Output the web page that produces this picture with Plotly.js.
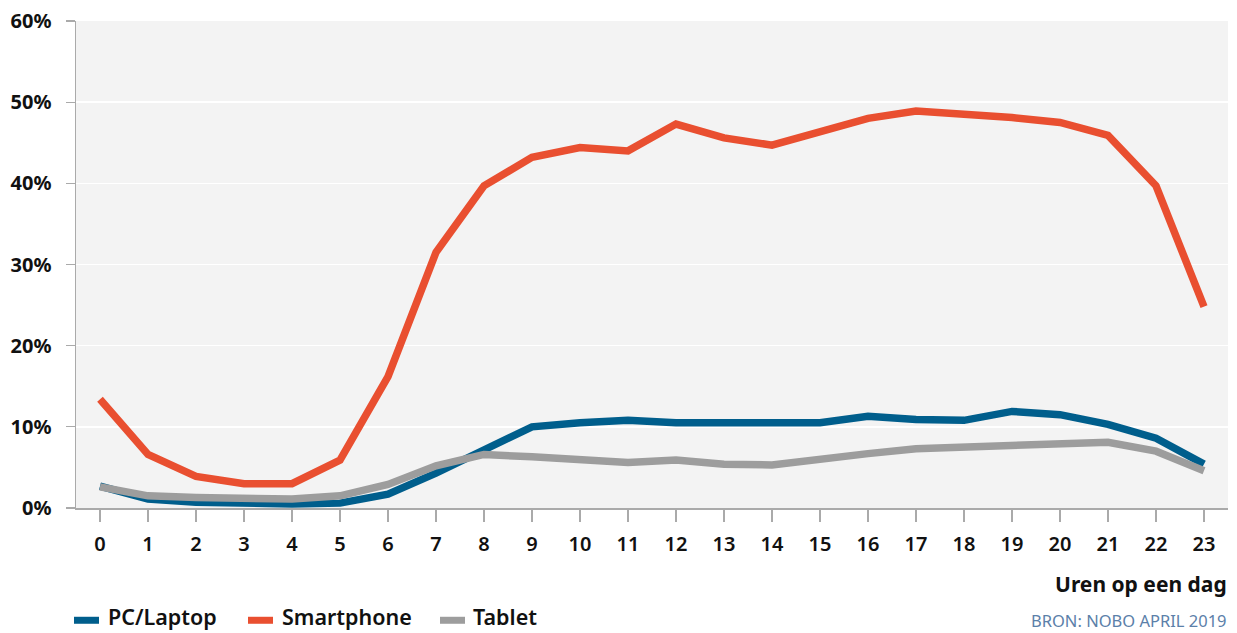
<!DOCTYPE html>
<html>
<head>
<meta charset="utf-8">
<script src="https://cdn.plot.ly/plotly-3.0.1.min.js"></script>
<style>
  html, body { margin: 0; padding: 0; background: #ffffff; }
  #chart { width: 1237px; height: 633px; }
</style>
</head>
<body>
<div id="chart"></div>
<script>
// Hour of the day (0-23)
const hours = [0, 1, 2, 3, 4, 5, 6, 7, 8, 9, 10, 11, 12, 13, 14, 15, 16, 17, 18, 19, 20, 21, 22, 23];

// Share of use per device, in percent
const pcLaptop = [2.7, 1.1, 0.7, 0.5, 0.5, 0.6, 1.7, 4.3, 7.2, 10.0, 10.5, 10.8, 10.5, 10.6, 10.5, 10.5, 11.3, 10.9, 10.8, 11.9, 11.5, 10.3, 8.6, 5.4];
const smartphone = [13.4, 6.6, 3.9, 3.0, 3.0, 5.9, 16.2, 31.5, 39.7, 43.2, 44.4, 44.0, 47.3, 45.6, 44.7, 46.3, 48.0, 48.9, 48.6, 48.1, 47.5, 45.9, 39.7, 24.8];
const tablet = [2.6, 1.5, 1.3, 1.1, 1.1, 1.5, 2.9, 5.2, 6.6, 6.3, 5.9, 5.6, 5.9, 5.4, 5.3, 6.1, 6.7, 7.3, 7.5, 7.9, 7.9, 8.1, 7.0, 4.6];

const seriesNames = ['PC/Laptop', 'Smartphone', 'Tablet'];
const seriesColors = ['#005e8c', '#e94f30', '#9d9d9d'];
const yTickVals = [0, 10, 20, 30, 40, 50, 60];
const yTickText = ['0%', '10%', '20%', '30%', '40%', '50%', '60%'];
const xTitle = 'Uren op een dag';
const sourceText = 'BRON: NOBO APRIL 2019';

const FONT = '"Noto Sans", "DejaVu Sans", sans-serif';

// Page geometry of the plotting area
const W = 1237, H = 633;
const M = { l: 76, r: 9, t: 20.5, b: 124.5 };
const plotW = W - M.l - M.r;
const plotH = H - M.t - M.b;
const px = x => (x - M.l) / plotW;          // page x -> paper x
const py = y => (H - M.b - y) / plotH;       // page y -> paper y

const traces = [pcLaptop, smartphone, tablet].map((vals, i) => ({
  type: 'scatter',
  mode: 'lines',
  x: hours,
  y: vals,
  name: seriesNames[i],
  line: { color: seriesColors[i], width: 7.5, shape: 'linear' },
  hoverinfo: 'skip'
}));

// Legend drawn as a row of short thick swatches followed by labels
const legendRow = 621;
const legendItems = [
  { swatch: [74, 99], text: 107 },
  { swatch: [248, 273], text: 281 },
  { swatch: [440, 465], text: 472 }
];
const legendShapes = legendItems.map((it, i) => ({
  type: 'line',
  xref: 'paper', yref: 'paper',
  x0: px(it.swatch[0]), x1: px(it.swatch[1]),
  y0: py(legendRow), y1: py(legendRow),
  line: { color: seriesColors[i], width: 7 }
}));
const legendLabels = legendItems.map((it, i) => ({
  text: seriesNames[i],
  xref: 'paper', yref: 'paper',
  x: px(it.text), y: py(633),
  xanchor: 'left', yanchor: 'bottom',
  showarrow: false,
  borderpad: 0,
  font: { family: FONT, size: 21.5, color: '#111111', weight: 600 }
}));

const layout = {
  width: W,
  height: H,
  margin: { l: M.l, r: M.r, t: M.t, b: M.b, pad: 0 },
  paper_bgcolor: '#ffffff',
  plot_bgcolor: '#f3f3f3',
  showlegend: false,
  xaxis: {
    range: [-0.5, 23.5],
    tickmode: 'array',
    tickvals: hours,
    ticktext: hours.map(String),
    ticks: 'outside',
    ticklen: 12,
    tickwidth: 1.2,
    tickcolor: '#aaaaaa',
    ticklabelstandoff: 5,
    showline: true,
    linecolor: '#aaaaaa',
    linewidth: 2,
    showgrid: false,
    zeroline: false,
    fixedrange: true,
    automargin: false,
    tickfont: { family: FONT, size: 20, color: '#111111', weight: 600 }
  },
  yaxis: {
    range: [0, 60],
    tickmode: 'array',
    tickvals: yTickVals,
    ticktext: yTickText,
    ticks: 'outside',
    ticklen: 9,
    tickwidth: 1.2,
    tickcolor: '#aaaaaa',
    ticklabelstandoff: 10,
    showline: true,
    linecolor: '#aaaaaa',
    linewidth: 1.5,
    showgrid: true,
    gridcolor: '#ffffff',
    gridwidth: 1.5,
    zeroline: false,
    fixedrange: true,
    automargin: false,
    tickfont: { family: FONT, size: 20, color: '#111111', weight: 700 }
  },
  shapes: legendShapes,
  annotations: [
    {
      text: xTitle,
      xref: 'paper', yref: 'paper',
      x: 1, y: py(585),
      xanchor: 'right', yanchor: 'middle',
      showarrow: false,
      borderpad: 0,
      font: { family: FONT, size: 21, color: '#111111', weight: 700 }
    },
    {
      text: sourceText,
      xref: 'paper', yref: 'paper',
      x: 1, y: py(621),
      xanchor: 'right', yanchor: 'middle',
      showarrow: false,
      borderpad: 0,
      font: { family: FONT, size: 16.5, color: '#5b80a9' }
    }
  ].concat(legendLabels)
};

Plotly.newPlot('chart', traces, layout, { displayModeBar: false, staticPlot: true });
</script>
</body>
</html>
